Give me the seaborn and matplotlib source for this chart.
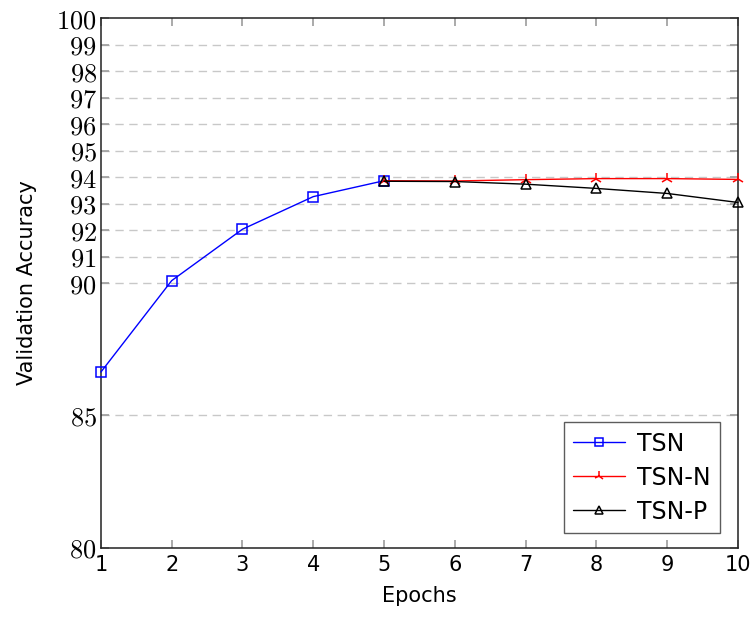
import pandas as pd
import seaborn as sns
from matplotlib import pyplot as plt

sns.set_theme(style="white")
plt.rcParams['font.family'] = ['DejaVu Sans']
plt.rcParams['mathtext.fontset'] = 'cm'
plt.rcParams['text.color'] = 'black'
plt.rcParams['axes.labelcolor'] = 'black'
plt.rcParams['xtick.color'] = 'black'
plt.rcParams['ytick.color'] = 'black'

# values
epochs_tsn = [1, 2, 3, 4, 5]
acc_tsn = [86.64, 90.09, 92.03, 93.26, 93.86]
epochs_ext = [5, 6, 7, 8, 9, 10]
acc_tsn_n = [93.86, 93.85, 93.90, 93.94, 93.94, 93.91]
acc_tsn_p = [93.84, 93.83, 93.73, 93.57, 93.38, 93.04]
y_ticks = [80, 85, 90, 91, 92, 93, 94, 95, 96, 97, 98, 99, 100]
x_ticks = list(range(1, 11))

df_tsn = pd.DataFrame({"epoch": epochs_tsn, "acc": acc_tsn})
df_n = pd.DataFrame({"epoch": epochs_ext, "acc": acc_tsn_n})
df_p = pd.DataFrame({"epoch": epochs_ext, "acc": acc_tsn_p})

fig = plt.figure(figsize=(7.53, 6.22), dpi=100)
ax = fig.add_axes([0.134, 0.119, 0.846, 0.852])

for y in y_ticks[1:-1]:
    ax.axhline(y, color="#c8c8c8", lw=1, ls=(0, (6, 4)), zorder=0)

sns.lineplot(data=df_tsn, x="epoch", y="acc", ax=ax, color="blue", lw=1,
             marker="s", markersize=7.5, markerfacecolor="none",
             markeredgecolor="blue", markeredgewidth=1.1, label="TSN",
             zorder=3, clip_on=False)
sns.lineplot(data=df_n, x="epoch", y="acc", ax=ax, color="red", lw=1,
             marker="2", markersize=9, markeredgecolor="red",
             markeredgewidth=1.1, label="TSN-N", zorder=4, clip_on=False)
sns.lineplot(data=df_p, x="epoch", y="acc", ax=ax, color="black", lw=1,
             marker="^", markersize=6.5, markerfacecolor="none",
             markeredgecolor="black", markeredgewidth=1.1, label="TSN-P",
             zorder=5, clip_on=False)

ax.set_xlim(1, 10)
ax.set_ylim(80, 100)
ax.set_xticks(x_ticks)
ax.set_xticklabels([str(v) for v in x_ticks], fontsize=15)
ax.set_yticks(y_ticks)
ax.set_yticklabels([f"${v}$" for v in y_ticks], fontsize=19)
ax.tick_params(direction="in", length=6, color="#a0a0a0", top=True, right=True,
               left=True, bottom=True, pad=3)
ax.tick_params(axis="x", pad=5)
ax.set_xlabel("Epochs", fontsize=15, labelpad=8)
ax.set_ylabel("Validation Accuracy", fontsize=15, labelpad=14)
for s in ax.spines.values():
    s.set_color("#222222")
    s.set_linewidth(1.1)

leg = ax.legend(loc="lower right", fontsize=17, frameon=True, fancybox=False,
                edgecolor="#333333", handlelength=2.2, handletextpad=0.5,
                borderpad=0.4, labelspacing=0.42, markerscale=0.8,
                bbox_to_anchor=(0.99, 0.006))
leg.get_frame().set_linewidth(1.0)

fig.savefig("out.png", dpi=100)
